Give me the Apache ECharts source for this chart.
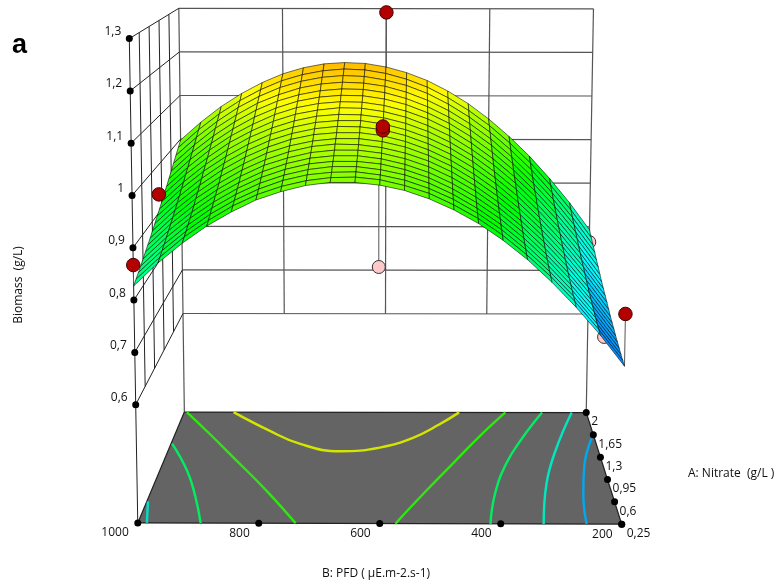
<!DOCTYPE html>
<html><head><meta charset="utf-8">
<style>html,body{margin:0;padding:0;background:#fff}#c{width:779px;height:588px}</style>
<script src="https://cdn.jsdelivr.net/npm/echarts@6/dist/echarts.min.js"></script>
</head><body><div id="c"></div>
<script>
// ---------- data ----------
const pfdTicks=[1000,800,600,400,200];
const pfdLabels=['1000','800','600','400','200'];
const nitrateTicks=[0.25,0.6,0.95,1.3,1.65,2];
const nitrateLabels=['0,25','0,6','0,95','1,3','1,65','2'];
const biomassTicks=[0.6,0.7,0.8,0.9,1,1.1,1.2,1.3];
const biomassLabels=['0,6','0,7','0,8','0,9','1','1,1','1,2','1,3'];
const floorBiomass=0.374;
// rows: nitrate 0.25 -> 2 in 20 steps; columns: PFD 1000 -> 200 in 20 steps
const biomassGrid=[
[.827,.871,.909,.942,.969,.992,1.008,1.020,1.026,1.026,1.021,1.011,.995,.974,.948,.916,.879,.836,.788,.735,.676],
[.833,.876,.915,.947,.975,.997,1.013,1.024,1.030,1.031,1.026,1.015,1.000,.978,.952,.920,.882,.840,.792,.738,.679],
[.839,.882,.920,.953,.980,1.002,1.019,1.030,1.035,1.036,1.030,1.020,1.004,.983,.956,.924,.886,.843,.795,.741,.682],
[.845,.888,.926,.959,.986,1.008,1.024,1.035,1.041,1.041,1.035,1.025,1.009,.987,.960,.928,.890,.847,.799,.745,.686],
[.852,.895,.933,.965,.992,1.014,1.030,1.041,1.046,1.046,1.041,1.030,1.014,.992,.965,.933,.895,.852,.803,.749,.690],
[.859,.902,.939,.972,.998,1.020,1.036,1.047,1.052,1.052,1.046,1.035,1.019,.997,.970,.938,.900,.856,.808,.754,.694],
[.866,.909,.946,.978,1.005,1.027,1.042,1.053,1.058,1.058,1.052,1.041,1.025,1.003,.976,.943,.905,.861,.812,.758,.699],
[.873,.916,.954,.985,1.012,1.033,1.049,1.060,1.065,1.064,1.058,1.047,1.031,1.009,.981,.948,.910,.867,.818,.763,.703],
[.881,.924,.961,.993,1.019,1.041,1.056,1.066,1.071,1.071,1.065,1.054,1.037,1.015,.987,.954,.916,.872,.823,.768,.708],
[.889,.932,.969,1.001,1.027,1.048,1.064,1.074,1.078,1.078,1.072,1.060,1.043,1.021,.993,.960,.922,.878,.829,.774,.714],
[.898,.940,.977,1.009,1.035,1.056,1.071,1.081,1.086,1.085,1.079,1.067,1.050,1.028,1.000,.967,.928,.884,.835,.780,.720],
[.906,.949,.986,1.017,1.043,1.064,1.079,1.089,1.093,1.093,1.086,1.074,1.057,1.035,1.007,.973,.935,.890,.841,.786,.726],
[.915,.957,.994,1.026,1.052,1.072,1.087,1.097,1.101,1.100,1.094,1.082,1.065,1.042,1.014,.980,.942,.897,.848,.792,.732],
[.925,.967,1.003,1.035,1.060,1.081,1.096,1.105,1.110,1.109,1.102,1.090,1.072,1.050,1.021,.988,.949,.904,.854,.799,.738],
[.934,.976,1.013,1.044,1.069,1.090,1.105,1.114,1.118,1.117,1.110,1.098,1.081,1.058,1.029,.995,.956,.912,.862,.806,.745],
[.944,.986,1.022,1.053,1.079,1.099,1.114,1.123,1.127,1.126,1.119,1.107,1.089,1.066,1.037,1.003,.964,.919,.869,.814,.753],
[.954,.996,1.032,1.063,1.089,1.109,1.123,1.132,1.136,1.135,1.128,1.115,1.097,1.074,1.046,1.012,.972,.927,.877,.821,.760],
[.965,1.006,1.043,1.073,1.099,1.118,1.133,1.142,1.146,1.144,1.137,1.124,1.106,1.083,1.054,1.020,.980,.935,.885,.829,.768],
[.976,1.017,1.053,1.084,1.109,1.129,1.143,1.152,1.156,1.154,1.146,1.134,1.116,1.092,1.063,1.029,.989,.944,.893,.837,.776],
[.987,1.028,1.064,1.094,1.119,1.139,1.153,1.162,1.166,1.164,1.156,1.143,1.125,1.101,1.072,1.038,.998,.953,.902,.846,.784],
[.998,1.039,1.075,1.105,1.130,1.150,1.164,1.173,1.176,1.174,1.166,1.153,1.135,1.111,1.082,1.047,1.007,.962,.911,.855,.793]
];
const pfdSteps=[1000,960,920,880,840,800,760,720,680,640,600,560,520,480,440,400,360,320,280,240,200];
const nitrateSteps=[.25,.3375,.425,.5125,.6,.6875,.775,.8625,.95,1.0375,1.125,1.2125,1.3,1.3875,1.475,1.5625,1.65,1.7375,1.825,1.9125,2];
// design points: [PFD, nitrate, biomass]
const pointsAbove=[[594,1.125,1.324],[1000,1.2,.938],[1000,.25,.867],[200,.25,.776],[600,1.125,1.078],[600,1.125,1.086]];
const pointsBelow=[[607,1.125,.793],[200,2,.765],[200,1.23,.637]];
const surfaceAtPoint=[1.079,.938,.827,.676,1.079,1.079];
const surfaceAtBelow=[1.079,.793,.706];
// contour lines on the floor: [PFD, nitrate]
const contours=[
 {color:'#d4e600',pts:[[902,2],[827,1.729],[757,1.5],[680,1.385],[607,1.445],[545,1.6],[494,1.809],[453,2]]},
 {color:'#2ee810',pts:[[995,2],[933,1.65],[874,1.279],[798,.749],[739,.25]]},
 {color:'#00ee60',pts:[[998,1.5],[950,1.066],[920,.668],[896,.25]]},
 {color:'#00e0c8',pts:[[998,.59],[985,.25]]},
 {color:'#2ee810',pts:[[361,2],[418,1.624],[472,1.2],[527,.72],[574,.25]]},
 {color:'#00ee60',pts:[[288,2],[337,1.6],[375,1.2],[403,.72],[417,.25]]},
 {color:'#00e8c0',pts:[[229,2],[279,1.412],[310,.88],[329,.25]]},
 {color:'#00a8f0',pts:[[205,1.6],[235,1.146],[250,.72],[258,.25]]}
];
// ---------- projection of the 3D box onto the page axes ----------
const BOX={fl:[135.7,404.7,-.914,-52.3],fr:[623.8,406,.93,-52.3],bl:[183,313.5,-.6,-43.6],br:[588,314,.78,-43.6]};
function project(b,a,z){
  const u=(1000-b)/800,v=(a-.25)/1.75,n=(z-.6)/.1;
  const at=c=>[c[0]+c[2]*n,c[1]+c[3]*n];
  const fl=at(BOX.fl),fr=at(BOX.fr),bl=at(BOX.bl),br=at(BOX.br);
  const mix=i=>(1-v)*((1-u)*fl[i]+u*fr[i])+v*((1-u)*bl[i]+u*br[i]);
  return [mix(0),mix(1)];
}
const STOPS=[[.63,[0,0,255]],[.77,[0,255,255]],[.94,[0,255,0]],[1.11,[255,255,0]],[1.35,[255,0,0]]];
function colorOf(z){
  let i=0;while(i<STOPS.length-2&&z>STOPS[i+1][0])i++;
  const a=STOPS[i],b=STOPS[i+1],t=Math.max(0,Math.min(1,(z-a[0])/(b[0]-a[0])));
  return 'rgb('+a[1].map((c,k)=>Math.round(c+(b[1][k]-c)*t)).join(',')+')';
}
// ---------- helpers ----------
function segments(list,color,width,z){
  return {type:'custom',coordinateSystem:'cartesian2d',silent:true,z:z,data:list,animation:false,clip:false,
    encode:{x:0,y:1},
    renderItem:(p,api)=>{const s=list[p.dataIndex],a=api.coord(s[0]),b=api.coord(s[1]);
      return {type:'line',shape:{x1:a[0],y1:a[1],x2:b[0],y2:b[1]},style:{stroke:color,lineWidth:width,fill:null}};}};
}
function texts(list,align,dx,dy,z){
  return {type:'custom',coordinateSystem:'cartesian2d',silent:true,z:z,data:list,animation:false,clip:false,
    renderItem:(p,api)=>{const t=list[p.dataIndex],c=api.coord(t.at);
      return {type:'text',x:c[0]+dx,y:c[1]+dy,style:{text:t.label,fill:'#111',font:'12px "Open Sans"',align:align,verticalAlign:'middle'}};}};
}
function dots(pts,size,fill,border,z){
  return {type:'scatter',silent:true,z:z,data:pts,symbol:'circle',symbolSize:size,animation:false,
    itemStyle:{color:fill,borderColor:border,borderWidth:border==='none'?0:1,opacity:1}};
}
const P0=pfdTicks[0],P1=pfdTicks[4],A0=nitrateTicks[0],A1=nitrateTicks[5],Z0=biomassTicks[0],Z1=biomassTicks[7];
const backWall=[],sideWall=[];
biomassTicks.forEach(z=>{backWall.push([project(P0,A1,z),project(P1,A1,z)]);sideWall.push([project(P0,A0,z),project(P0,A1,z)]);});
pfdTicks.slice(1,4).forEach(b=>backWall.push([project(b,A1,Z0),project(b,A1,Z1)]));
backWall.push([project(P1,A1,floorBiomass),project(P1,A1,Z1)]);
backWall.push([project(P0,A1,floorBiomass),project(P0,A1,Z1)]);
nitrateTicks.slice(1,5).forEach(a=>sideWall.push([project(P0,a,Z0),project(P0,a,Z1)]));
sideWall.push([project(P0,A0,floorBiomass),project(P0,A0,Z1)]);
const floorEdges=[[[P0,A0],[P1,A0]],[[P1,A0],[P1,A1]],[[P1,A1],[P0,A1]],[[P0,A1],[P0,A0]]]
  .map(e=>e.map(q=>project(q[0],q[1],floorBiomass)));
const polesBelow=pointsBelow.map((q,i)=>[project(q[0],q[1],q[2]),project(q[0],q[1],surfaceAtBelow[i])]);
const polesAbove=pointsAbove.map((q,i)=>[project(q[0],q[1],q[2]),project(q[0],q[1],surfaceAtPoint[i])]);
const cells=[];
for(let j=biomassGrid.length-2;j>=0;j--)for(let i=0;i<biomassGrid[0].length-1;i++)cells.push([i,j]);

const series=[
 segments(backWall,'#555',1.2,1),
 segments(sideWall,'#222',1,2),
 // floor
 {type:'custom',coordinateSystem:'cartesian2d',silent:true,z:3,data:[0],animation:false,clip:false,
  renderItem:(p,api)=>({type:'polygon',shape:{points:[[P0,A0],[P1,A0],[P1,A1],[P0,A1]].map(q=>api.coord(project(q[0],q[1],floorBiomass)))},style:{fill:'#646464',stroke:null}})},
 segments(floorEdges,'#222',1.2,4),
 segments(polesBelow,'#555',1,5),
 segments(polesAbove,'#555',1,5),
 dots(pointsBelow.map(q=>project(q[0],q[1],q[2])),13,'#ffc9c9','#333',6),
 // surface
 {type:'custom',coordinateSystem:'cartesian2d',silent:true,z:7,data:cells,animation:false,clip:false,progressive:0,
  renderItem:(p,api)=>{
    const c=cells[p.dataIndex],i=c[0],j=c[1];
    const P=(ii,jj)=>api.coord(project(pfdSteps[ii],nitrateSteps[jj],biomassGrid[jj][ii]));
    const top=(biomassGrid[j+1][i]+biomassGrid[j+1][i+1])/2,bot=(biomassGrid[j][i]+biomassGrid[j][i+1])/2;
    return {type:'polygon',shape:{points:[P(i,j),P(i+1,j),P(i+1,j+1),P(i,j+1)]},
      style:{fill:new echarts.graphic.LinearGradient(0,0,0,1,[{offset:0,color:colorOf(top)},{offset:1,color:colorOf(bot)}]),
             stroke:'rgba(0,0,0,.85)',lineWidth:.65}};
  }},
 dots(pointsAbove.map(q=>project(q[0],q[1],q[2])),13.5,'#b30000','#400',9),
 ...contours.map(c=>({type:'line',silent:true,z:5,smooth:.45,symbol:'none',animation:false,
     lineStyle:{color:c.color,width:2.4},data:c.pts.map(q=>project(q[0],q[1],floorBiomass))})),
 dots(biomassTicks.map(z=>project(P0,A0,z)),7,'#000','none',10),
 dots(pfdTicks.map(b=>project(b,A0,floorBiomass)),7,'#000','none',10),
 dots(nitrateTicks.map(a=>project(P1,a,floorBiomass)),7,'#000','none',10),
 texts(biomassTicks.map((z,i)=>({at:project(P0,A0,z),label:biomassLabels[i]})),'right',-8,-7,11),
 texts(pfdTicks.map((b,i)=>({at:project(b,A0,floorBiomass),label:pfdLabels[i]})),'right',-9,10,11),
 texts(nitrateTicks.map((a,i)=>({at:project(P1,a,floorBiomass),label:nitrateLabels[i]})),'left',5,9.5,11)
];
const chart=echarts.init(document.getElementById('c'),null,{renderer:'canvas'});
chart.setOption({
 animation:false,backgroundColor:'#fff',
 grid:{left:0,right:0,top:0,bottom:0},
 xAxis:{type:'value',min:0,max:779,show:false},
 yAxis:{type:'value',min:0,max:588,inverse:true,show:false},
 series:series,
 graphic:[
  {type:'text',left:12,top:32,style:{text:'a',font:'bold 27px "Liberation Sans"',fill:'#000'}},
  {type:'text',x:19,y:285,rotation:Math.PI/2,style:{text:'Biomass  (g/L)',font:'12px "Open Sans"',fill:'#111',align:'center',verticalAlign:'middle'}},
  {type:'text',x:376,y:574,style:{text:'B: PFD ( µE.m-2.s-1)',font:'12px "Open Sans"',fill:'#111',align:'center',verticalAlign:'middle'}},
  {type:'text',x:688,y:474,style:{text:'A: Nitrate  (g/L )',font:'12px "Open Sans"',fill:'#111',align:'left',verticalAlign:'middle'}}
 ]
});
</script></body></html>
